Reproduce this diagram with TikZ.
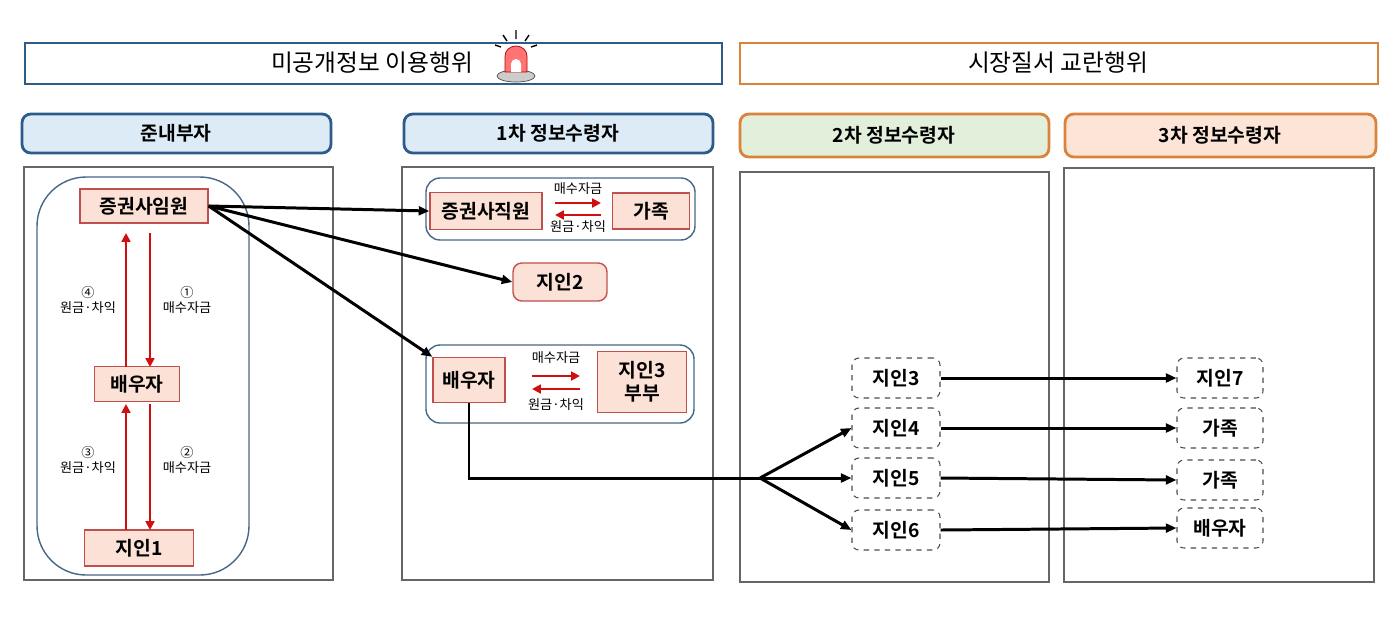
\documentclass[tikz,border=0pt]{standalone}
\usepackage{fontspec}
\setmainfont{Noto Sans CJK KR}[BoldFont={* Bold}]
\usepackage{tikz}
\usetikzlibrary{positioning,arrows.meta}

\definecolor{bdblue}{HTML}{2E5C8A}
\definecolor{bdorange}{HTML}{D9833C}
\definecolor{fblue}{HTML}{DDEBF7}
\definecolor{fgreen}{HTML}{E2EFDA}
\definecolor{forange}{HTML}{FCE4D6}
\definecolor{fpink}{HTML}{FBE1D6}
\definecolor{bdred}{HTML}{C0504D}
\definecolor{arred}{HTML}{D01010}

\tikzset{
  bar/.style={draw=#1, line width=1.6pt, fill=white},
  head/.style={draw=#1, line width=1.6pt, rounded corners=5pt},
  panel/.style={draw=gray!80!black, line width=1.4pt},
  grp/.style={draw=bdblue!70!gray, line width=0.8pt, rounded corners=8pt},
  pbox/.style={draw=bdred, fill=fpink, line width=0.8pt, font=\bfseries\fontsize{11}{13}\selectfont, inner sep=0pt},
  dbox/.style={draw=gray!60!black, dashed, rounded corners=4pt, line width=0.6pt, font=\bfseries\fontsize{11}{13}\selectfont, inner sep=0pt},
  small/.style={font=\fontsize{7.5}{9}\selectfont, inner sep=0pt, align=center},
  blk/.style={-{Triangle[length=6pt,width=5pt]}, line width=1.7pt},
  rd/.style={-{Triangle[length=5pt,width=5pt]}, draw=arred, line width=1.4pt}
}

\begin{document}
\begin{tikzpicture}[x=0.02cm, y=-0.02cm]
  \useasboundingbox (0,0) rectangle (1400,627);

  % top bars
  \draw[bar=bdblue] (25,43) rectangle (722,84);
  \node[font=\fontsize{13.5}{15}\selectfont] (t1) at (372,63) {미공개정보 이용행위};
  \draw[bar=bdorange] (740,43) rectangle (1378,84);
  \node[font=\fontsize{13.5}{15}\selectfont] (t2) at (1058,63) {시장질서 교란행위};

  % siren
  \fill[gray!40, draw=gray!60!black] (516,76) ellipse (19 and 6);
  \fill[red!55, draw=red!70!black] (505,72) -- (505,56) arc[start angle=180, end angle=360, x radius=11, y radius=10] -- (527,72) -- cycle;
  \fill[white] (511,72) -- (511,64) arc[start angle=180, end angle=360, x radius=5, y radius=5] -- (521,72) -- cycle;
  \draw[line width=0.8pt] (516,30) -- (516,39) (503,35) -- (507,41) (529,35) -- (525,41) (495,45) -- (501,47) (537,45) -- (531,47);

  % column headers
  \draw[head=bdblue, fill=fblue] (22,114) rectangle (331,153);
  \node[font=\bfseries\fontsize{11}{13}\selectfont] at (176,133) {준내부자};
  \draw[head=bdblue, fill=fblue] (404,114) rectangle (713,153);
  \node[font=\bfseries\fontsize{11}{13}\selectfont] at (558,133) {1차 정보수령자};
  \draw[head=bdorange, fill=fgreen] (740,114) rectangle (1049,157);
  \node[font=\bfseries\fontsize{11}{13}\selectfont] at (894,135) {2차 정보수령자};
  \draw[head=bdorange, fill=forange] (1065,114) rectangle (1376,157);
  \node[font=\bfseries\fontsize{11}{13}\selectfont] at (1220,135) {3차 정보수령자};

  % panels
  \draw[panel] (24,167) rectangle (333,580);
  \draw[panel] (402,167) rectangle (713,580);
  \draw[panel] (740,172) rectangle (1049,582);
  \draw[panel] (1064,168) rectangle (1374,582);

  % insider group
  \draw[grp, rounded corners=28pt] (37,177) rectangle (249,575);
  \node[pbox, minimum width=2.56cm, minimum height=0.68cm] (exec) at (144,206) {증권사임원};
  \node[pbox, minimum width=1.7cm, minimum height=0.7cm] (sp1) at (137,384) {배우자};
  \node[pbox, minimum width=2.18cm, minimum height=0.72cm] (f1) at (139,548) {지인1};

  \draw[rd] (126,367) -- (126,233);
  \draw[rd] (150,233) -- (150,367);
  \draw[rd] (126,530) -- (126,404);
  \draw[rd] (150,404) -- (150,530);
  \node[small] (l4) at (88,300) {④\\원금·차익};
  \node[small] (l1) at (187,300) {①\\매수자금};
  \node[small] (l3) at (88,460) {③\\원금·차익};
  \node[small] (l2) at (187,460) {②\\매수자금};

  % first receivers
  \draw[grp] (426,178) rectangle (695,240);
  \node[pbox, minimum width=2.24cm, minimum height=0.74cm] (emp) at (486,211) {증권사직원};
  \node[pbox, minimum width=1.54cm, minimum height=0.72cm] (fam1) at (651,211) {가족};
  \draw[rd] (555,203) -- (601,203);
  \draw[rd] (601,215) -- (555,215);
  \node[small] (m1) at (578,189) {매수자금};
  \node[small] (w1) at (578,227) {원금·차익};

  \node[pbox, rounded corners=5pt, minimum width=1.88cm, minimum height=0.76cm] (f2) at (560,282) {지인2};

  \draw[grp] (426,345) rectangle (694,423);
  \node[pbox, minimum width=1.44cm, minimum height=0.9cm] (sp2) at (469,380) {배우자};
  \node[pbox, minimum width=1.78cm, minimum height=1.22cm, align=center, text width=1.6cm] (f3c) at (642,382) {지인3\\부부};
  \draw[rd] (532,376) -- (580,376);
  \draw[rd] (580,389) -- (532,389);
  \node[small] (m2) at (556,358) {매수자금};
  \node[small] (w2) at (556,405) {원금·차익};

  % second and third receivers
  \foreach \n/\t/\y in {a/지인3/378, b/지인4/428, c/지인5/478, d/지인6/530}
    \node[dbox, minimum width=1.76cm, minimum height=0.8cm] (s\n) at (896,\y) {\t};
  \foreach \n/\t/\y in {a/지인7/378, b/가족/428, c/가족/480, d/배우자/528}
    \node[dbox, minimum width=1.72cm, minimum height=0.8cm] (r\n) at (1220,\y) {\t};

  % connectors
  \draw[blk] (exec.east) -- (emp.west);
  \draw[blk] (exec.east) -- (f2.west);
  \draw[blk] (exec.east) -- (sp2.north west);
  \coordinate (hub) at (760,478);
  \draw[line width=1.7pt] (sp2.south) -- (469,478) -- (hub);
  \draw[blk] (hub) -- (sb.west);
  \draw[blk] (hub) -- (sc.west);
  \draw[blk] (hub) -- (sd.west);
  \foreach \n in {a,b,c,d}
    \draw[blk] (s\n.east) -- (r\n.west);
\end{tikzpicture}
\end{document}
